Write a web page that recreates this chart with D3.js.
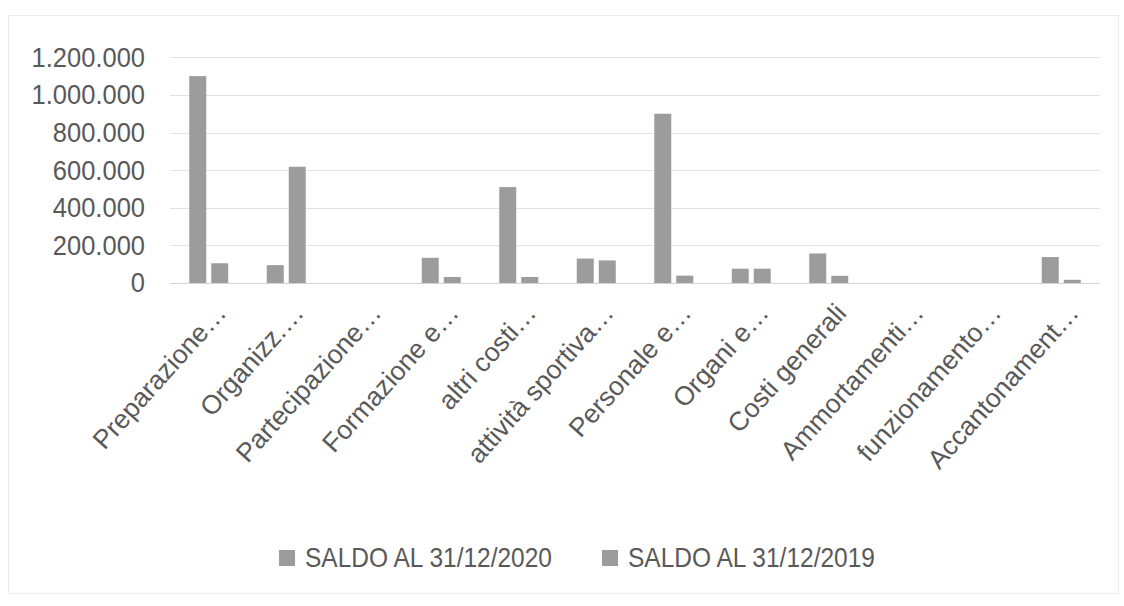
<!DOCTYPE html>
<html lang="it">
<head>
  <meta charset="UTF-8">
  <title>Saldi 2020 / 2019</title>
  <style>
    body { margin: 0; background: #fff; }
    svg { display: block; }
    text {
      font-family: "Liberation Sans", Arial, sans-serif;
      fill: #595959;
    }
    .grid line { stroke: #e2e2e2; stroke-width: 1px; }
  </style>
</head>
<body>
  <script src="https://cdnjs.cloudflare.com/ajax/libs/d3/7.8.5/d3.min.js"></script>
  <svg></svg>
  <script>
    var categories = [
      'Preparazione…', 'Organizz.…', 'Partecipazione…', 'Formazione e…',
      'altri costi…', 'attività sportiva…', 'Personale e…', 'Organi e…',
      'Costi generali', 'Ammortamenti…', 'funzionamento…', 'Accantonament…'
    ];
    var seriesNames = ['SALDO AL 31/12/2020', 'SALDO AL 31/12/2019'];
    var saldo2020 = [1100000, 95000, 0, 134000, 510000, 130000, 900000, 76000, 157000, 0, 0, 138000];
    var saldo2019 = [105000, 618000, 0, 32000, 32000, 120000, 39000, 76000, 38000, 0, 0, 17000];
    var yTicks = [0, 200000, 400000, 600000, 800000, 1000000, 1200000];

    var width = 1124, height = 606;
    var plot = {left: 170, right: 1100, top: 57.3, bottom: 283};
    var barColor = '#9c9c9c';

    var svg = d3.select('svg')
                .attr('width', width)
                .attr('height', height);

    // light chart frame
    svg.append('rect')
      .attr('x', 8.5).attr('y', 15.5)
      .attr('width', 1110).attr('height', 578)
      .attr('fill', 'none')
      .attr('stroke', '#ececec');

    var it = d3.formatLocale({decimal: ',', thousands: '.', grouping: [3], currency: ['€', '']});
    var fmt = it.format(',.0f');

    var xScale = d3.scaleBand()
                   .domain(d3.range(categories.length))
                   .range([plot.left, plot.right]);
    var mid = xScale.bandwidth() / 2;
    var xInner = d3.scaleBand()
                   .domain([0, 1])
                   .range([mid - 19.5, mid + 19.5])
                   .paddingInner(5 / 22);
    var yScale = d3.scaleLinear()
                   .domain([0, 1200000])
                   .range([plot.bottom, plot.top]);

    // gridlines
    svg.append('g')
      .attr('class', 'grid')
      .selectAll('line')
      .data(yTicks)
      .enter()
      .append('line')
        .attr('x1', plot.left)
        .attr('x2', plot.right)
        .attr('y1', function(d) { return Math.round(yScale(d)) + 0.5; })
        .attr('y2', function(d) { return Math.round(yScale(d)) + 0.5; })
        .style('stroke', function(d) { return d === 0 ? '#d4d4d4' : null; });

    // y axis labels
    var yAxis = svg.append('g')
      .attr('transform', 'translate(' + (plot.left - 25) + ',0)')
      .call(d3.axisLeft(yScale).tickValues(yTicks).tickFormat(fmt).tickSize(0).tickPadding(0));
    yAxis.select('.domain').remove();
    yAxis.selectAll('text')
      .style('font-family', '"Liberation Sans", Arial, sans-serif')
      .attr('fill', '#595959')
      .style('font-size', '25.5px')
      .attr('transform', 'scale(1,1.1)');

    // bars
    var rows = categories.map(function(c, i) {
      return {i: i, values: [saldo2020[i], saldo2019[i]]};
    });
    var groups = svg.append('g')
      .selectAll('g')
      .data(rows)
      .enter()
      .append('g')
        .attr('transform', function(d) { return 'translate(' + xScale(d.i) + ',0)'; });
    groups.selectAll('rect')
      .data(function(d) { return d.values; })
      .enter()
      .append('rect')
        .attr('x', function(d, j) { return xInner(j); })
        .attr('y', function(d) { return yScale(d); })
        .attr('width', xInner.bandwidth())
        .attr('height', function(d) { return plot.bottom - yScale(d); })
        .attr('fill', barColor);

    // rotated category labels
    svg.append('g')
      .selectAll('text')
      .data(categories)
      .enter()
      .append('text')
        .attr('transform', function(d, i) {
          return 'translate(' + (xScale(i) + mid + 19) + ',314) rotate(-48)';
        })
        .attr('text-anchor', 'end')
        .style('font-size', '26.5px')
        .text(function(d) { return d; });

    // legend
    var legend = svg.append('g').attr('transform', 'translate(0,567)');
    var items = legend.selectAll('g')
      .data(seriesNames)
      .enter()
      .append('g');
    items.append('rect')
      .attr('y', -17)
      .attr('width', 16)
      .attr('height', 16)
      .attr('fill', barColor);
    items.append('text')
      .attr('x', 26)
      .attr('transform', 'scale(1,1.1)')
      .style('font-size', '24.5px')
      .text(function(d) { return d; });
    var offsets = [], total = 0;
    items.each(function(d, k) {
      var w = 26 + this.querySelector('text').getComputedTextLength();
      offsets.push(total);
      total += w + (k < seriesNames.length - 1 ? 50 : 0);
    });
    var start = 577 - total / 2;
    items.attr('transform', function(d, k) { return 'translate(' + (start + offsets[k]) + ',0)'; });
  </script>
</body>
</html>
